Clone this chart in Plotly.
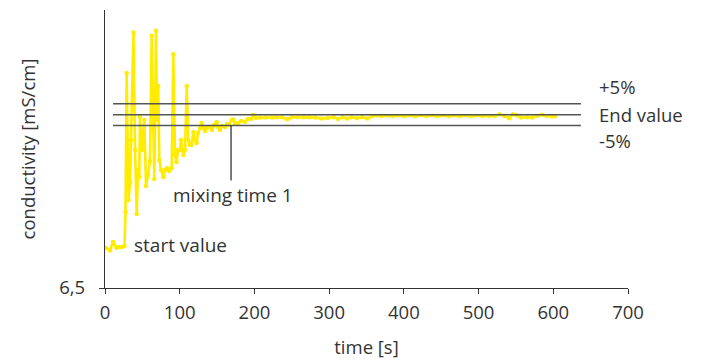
import plotly.graph_objects as go

# ---- data ----
time_s = [1.3, 6.7, 10.7, 15.4, 18.7, 22.8, 26.1, 27.4, 29.0, 31.5, 33.5, 34.8, 38.1, 40.2,
          42.4, 44.2, 45.9, 46.8, 49.5, 52.6, 54.9, 57.6, 60.2, 62.5, 64.2, 66.0, 68.3, 69.6,
          71.3, 72.7, 75.0, 78.0, 80.3, 83.0, 85.7, 89.3, 91.4, 93.7, 95.7, 97.7, 100.4, 101.7,
          104.8, 107.1, 109.4, 111.5, 113.8, 116.0, 118.2, 120.5, 122.7, 124.5, 127.2, 129.4,
          131.8, 133.9, 136.5, 140.5, 143.2, 145.9, 149.5, 151.3, 153.9, 156.6, 160.6, 163.3,
          166.0, 169.6, 171.7, 174.0, 178.4, 182.0, 187.4, 191.4, 195.4, 198.5, 202.1, 207.5,
          215.5, 223.5, 230.2, 236.9, 244.0, 250.0, 258.0, 266.0, 274.0, 282.0, 290.0, 298.0,
          306.0, 312.0, 318.0, 324.0, 330.0, 337.0, 344.0, 351.0, 358.0, 370.0, 385.0, 400.0,
          415.0, 430.0, 445.0, 460.0, 475.0, 490.0, 505.0, 515.0, 522.0, 528.0, 534.0, 541.0,
          546.0, 551.0, 557.0, 565.0, 572.0, 579.0, 585.0, 591.0, 598.0, 602.0]
conductivity = [12.62, 12.23, 13.53, 12.62, 12.77, 12.77, 12.92, 18.12, 39.37, 19.96, 22.71,
                29.13, 45.57, 27.60, 17.81, 24.54, 23.47, 32.65, 27.60, 32.19, 22.10, 23.78,
                25.92, 45.08, 30.66, 23.17, 45.84, 32.19, 37.39, 26.07, 24.54, 23.47, 24.54,
                24.85, 24.39, 24.85, 42.23, 26.84, 25.77, 27.60, 27.60, 29.13, 26.84, 27.60,
                37.39, 29.13, 28.36, 28.36, 30.35, 29.13, 28.67, 30.20, 30.96, 31.73, 30.96,
                30.51, 30.96, 31.12, 30.66, 31.42, 31.88, 31.12, 30.66, 31.27, 31.12, 31.58,
                31.42, 32.19, 32.26, 31.73, 31.73, 32.03, 31.93, 32.34, 32.34, 32.95, 32.49,
                32.55, 32.55, 32.55, 32.60, 32.60, 32.30, 32.60, 32.60, 32.60, 32.60, 32.55,
                32.40, 32.50, 32.60, 32.35, 32.60, 32.40, 32.60, 32.45, 32.60, 32.40, 32.80,
                32.80, 32.80, 32.80, 32.80, 32.80, 32.80, 32.80, 32.80, 32.80, 32.80, 32.80,
                32.80, 33.05, 32.85, 32.45, 33.05, 32.90, 32.55, 32.60, 32.55, 32.85, 33.00,
                32.80, 32.70, 32.75]

end_value = 33.0
tolerance_pct = 5
mixing_time_1 = 168.7
x_tick_vals = [0, 100, 200, 300, 400, 500, 600, 700]
y_tick_vals = [6.5]
y_tick_text = ["6,5"]

FONT = "Open Sans"
WEIGHT = 400
TXT = "#333333"
YELLOW = "#FFEC00"

def f(size):
    return dict(family=FONT, size=size, color=TXT, weight=WEIGHT)

ANN = 19
RIGHT = 18.5
AX = 18.5

fig = go.Figure()
fig.add_trace(go.Scatter(
    x=time_s, y=conductivity, mode="lines+markers",
    line=dict(color=YELLOW, width=2.6),
    marker=dict(color=YELLOW, size=4.5),
    hoverinfo="skip", showlegend=False,
))

upper = end_value * (1 + tolerance_pct / 100)
lower = end_value * (1 - tolerance_pct / 100)
for yv in (upper, end_value, lower):
    fig.add_shape(type="line", xref="x", yref="y", x0=10.7, x1=637, y0=yv, y1=yv,
                  line=dict(color="#555555", width=1.5))

# mixing time marker
fig.add_shape(type="line", xref="x", yref="y", x0=mixing_time_1, x1=mixing_time_1,
              y0=lower, y1=lower - 8.4, line=dict(color="#333333", width=1.3))

fig.add_annotation(x=mixing_time_1, y=lower - 10.6, xref="x", yref="y", text="mixing time 1",
                   showarrow=False, xanchor="center", yanchor="middle", font=f(ANN), xshift=2)
fig.add_annotation(x=36, y=13.0, xref="x", yref="y", text="start value",
                   showarrow=False, xanchor="left", yanchor="middle", font=f(ANN))
fig.add_annotation(x=659, y=upper + 2.65, xref="x", yref="y", text="+5%",
                   showarrow=False, xanchor="left", yanchor="middle", font=f(RIGHT))
fig.add_annotation(x=659, y=end_value, xref="x", yref="y", text="End value",
                   showarrow=False, xanchor="left", yanchor="middle", font=f(RIGHT))
fig.add_annotation(x=659, y=lower - 2.3, xref="x", yref="y", text="-5%",
                   showarrow=False, xanchor="left", yanchor="middle", font=f(RIGHT))

# page body adds an 8px offset, so the figure is 700x355 with margins reduced by 8px
fig.update_layout(
    width=700, height=355,
    margin=dict(l=97, r=80, t=2, b=75, autoexpand=False),
    paper_bgcolor="white", plot_bgcolor="white",
    font=f(AX),
    xaxis=dict(
        range=[0, 700], tickvals=x_tick_vals, ticks="outside", ticklen=5, tickwidth=1,
        tickcolor="#333333", showline=True, linecolor="#333333", linewidth=1.3,
        showgrid=False, zeroline=False, tickfont=f(AX), automargin=False,
        ticklabelstandoff=3,
        title=dict(text="time [s]", font=f(AX), standoff=17),
    ),
    yaxis=dict(
        range=[6.5, 49.0], tickvals=y_tick_vals, ticktext=y_tick_text, ticks="outside",
        ticklen=5, tickwidth=1, tickcolor="#333333", showline=True, linecolor="#333333",
        linewidth=1.3, showgrid=False, zeroline=False, tickfont=f(AX), automargin=False,
        ticklabelstandoff=10,
        title=dict(text="conductivity [mS/cm]", font=f(AX), standoff=18),
    ),
)

fig.write_html("out.html")
